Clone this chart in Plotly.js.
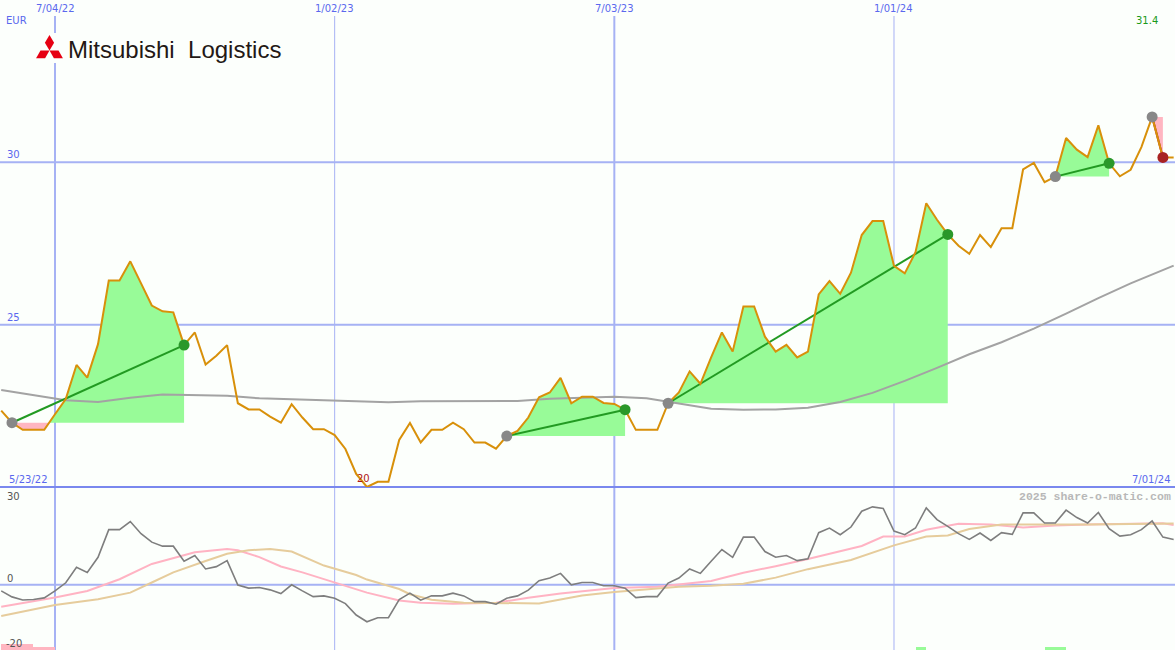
<!DOCTYPE html>
<html>
<head>
<meta charset="utf-8">
<script src="https://cdn.plot.ly/plotly-3.0.1.min.js"></script>
<style>
html,body{margin:0;padding:0;background:#fcfffc;}
#chart{width:1175px;height:650px;}
</style>
</head>
<body>
<div id="chart"></div>
<script>
// ---------- DATA ----------
const weeks = [
 '2022-05-30','2022-06-06','2022-06-13','2022-06-20','2022-06-27','2022-07-04','2022-07-11','2022-07-18','2022-07-25',
 '2022-08-01','2022-08-08','2022-08-15','2022-08-22','2022-08-29','2022-09-05','2022-09-12','2022-09-19','2022-09-26',
 '2022-10-03','2022-10-10','2022-10-17','2022-10-24','2022-10-31','2022-11-07','2022-11-14','2022-11-21','2022-11-28',
 '2022-12-05','2022-12-12','2022-12-19','2022-12-26',
 '2023-01-02','2023-01-09','2023-01-16','2023-01-23','2023-01-30','2023-02-06','2023-02-13','2023-02-20','2023-02-27',
 '2023-03-06','2023-03-13','2023-03-20','2023-03-27','2023-04-03','2023-04-10','2023-04-17','2023-04-24','2023-05-01',
 '2023-05-08','2023-05-15','2023-05-22','2023-05-29','2023-06-05','2023-06-12','2023-06-19','2023-06-26','2023-07-03',
 '2023-07-10','2023-07-17','2023-07-24','2023-07-31','2023-08-07','2023-08-14','2023-08-21','2023-08-28','2023-09-04',
 '2023-09-11','2023-09-18','2023-09-25','2023-10-02','2023-10-09','2023-10-16','2023-10-23','2023-10-30','2023-11-06',
 '2023-11-13','2023-11-20','2023-11-27','2023-12-04','2023-12-11','2023-12-18','2023-12-25',
 '2024-01-01','2024-01-08','2024-01-15','2024-01-22','2024-01-29','2024-02-05','2024-02-12','2024-02-19','2024-02-26',
 '2024-03-04','2024-03-11','2024-03-18','2024-03-25','2024-04-01','2024-04-08','2024-04-15','2024-04-22','2024-04-29',
 '2024-05-06','2024-05-13','2024-05-20','2024-05-27','2024-06-03','2024-06-10','2024-06-17','2024-06-24','2024-07-01'
];

const price = [
 22.35,21.98,21.76,21.76,21.76,22.24,22.71,23.76,23.37,24.40,26.36,26.36,26.95,26.27,25.59,25.41,25.38,24.37,
 24.76,23.77,24.04,24.37,22.58,22.39,22.39,22.17,21.98,22.55,22.14,21.78,21.78,21.60,21.17,20.40,20.00,20.16,
 20.16,21.45,21.97,21.37,21.76,21.76,21.98,21.78,21.37,21.37,21.18,21.57,21.73,22.14,22.76,22.91,23.36,22.58,
 22.78,22.78,22.59,22.56,22.38,21.76,21.76,21.76,22.58,22.91,23.56,23.18,23.99,24.76,24.17,25.56,25.56,24.63,
 24.17,24.38,23.99,24.17,25.93,26.34,25.95,26.60,27.76,28.19,28.19,26.81,26.58,27.23,28.74,28.23,27.78,27.43,
 27.18,27.76,27.39,27.97,27.97,29.78,29.98,29.39,29.56,30.75,30.39,30.16,31.14,29.97,29.57,29.77,30.47,31.40,
 30.15,30.15
];

// long moving average (top panel)
const maDates = ['2022-05-30','2022-06-20','2022-07-11','2022-08-01','2022-08-22','2022-09-12','2022-10-03','2022-10-24',
 '2022-11-14','2022-12-05','2022-12-26','2023-01-16','2023-02-06','2023-02-27','2023-03-20','2023-04-10','2023-05-01',
 '2023-05-22','2023-06-12','2023-07-03','2023-07-24','2023-08-14','2023-09-04','2023-09-25','2023-10-16','2023-11-06',
 '2023-11-27','2023-12-18','2024-01-08','2024-01-29','2024-02-19','2024-03-11','2024-04-01','2024-04-22','2024-05-13',
 '2024-06-03','2024-07-01'];
const maVals = [22.99,22.84,22.67,22.62,22.75,22.85,22.82,22.81,22.73,22.69,22.67,22.64,22.61,22.64,22.64,22.63,22.65,
 22.72,22.75,22.78,22.73,22.56,22.41,22.38,22.39,22.44,22.62,22.90,23.27,23.67,24.09,24.46,24.88,25.34,25.82,26.27,26.82];

// trades (start / end week)
const tradeStart = ['2022-06-06','2023-04-24','2023-08-07','2024-04-15','2024-06-17'];
const tradeEnd   = ['2022-09-26','2023-07-10','2024-02-05','2024-05-20','2024-06-24'];

// lower panel: momentum (weekly)
const momentum = [
 -1.86,-3.71,-4.64,-4.49,-4.02,-1.86,0.62,5.35,3.80,8.44,16.92,16.92,19.39,15.68,13.08,11.85,11.85,7.21,
 8.97,4.86,5.57,7.42,-0.09,-1.02,-0.84,-1.55,-2.69,0.00,-1.86,-3.62,-3.40,-4.11,-5.78,-9.28,-11.35,-10.11,
 -10.11,-4.52,-2.57,-4.73,-3.40,-3.40,-2.57,-3.40,-5.17,-5.17,-5.97,-4.11,-3.40,-1.64,1.24,2.07,3.50,0.00,
 0.71,0.71,-0.31,-0.31,-1.02,-3.93,-3.62,-3.62,0.53,2.07,4.86,3.50,7.21,10.83,8.44,14.63,14.63,10.21,
 8.44,8.97,7.42,7.95,15.99,17.41,15.37,17.72,22.58,23.91,23.41,16.49,15.37,17.41,23.60,20.01,17.94,15.68,
 13.92,15.87,13.61,15.99,15.47,22.05,22.05,18.96,18.96,22.89,20.63,18.96,22.18,17.23,14.94,15.37,16.92,19.58,
 14.63,13.92
];

const sigPinkDates = ['2022-05-30','2022-07-04','2022-07-25','2022-08-15','2022-09-05','2022-10-03','2022-10-24','2022-10-31',
 '2022-11-14','2022-11-28','2022-12-12','2023-01-02','2023-01-23','2023-02-13','2023-02-27','2023-03-20','2023-04-17',
 '2023-05-08','2023-05-29','2023-07-03','2023-07-31','2023-09-04','2023-09-25','2023-10-16','2023-11-06','2023-12-11',
 '2023-12-25','2024-01-08','2024-01-22','2024-02-12','2024-03-04','2024-03-25','2024-04-15','2024-05-06','2024-06-03',
 '2024-06-24','2024-07-01'];
const sigPinkVals = [-6.7,-3.9,-1.9,1.7,6.4,10.0,11.0,10.6,8.5,5.6,3.8,0.7,-2.4,-4.8,-5.5,-5.8,-5.5,-4.0,-2.7,-1.0,-0.6,
 1.2,3.7,5.7,7.9,11.9,14.8,14.8,16.9,18.7,18.5,17.6,18.2,18.5,18.8,18.9,18.3];

const sigTanDates = ['2022-05-30','2022-06-20','2022-07-04','2022-08-01','2022-08-22','2022-09-05','2022-09-19','2022-10-10',
 '2022-10-24','2022-11-07','2022-11-21','2022-12-05','2022-12-12','2022-12-26','2023-01-16','2023-01-23','2023-02-13',
 '2023-02-20','2023-03-06','2023-03-27','2023-05-15','2023-06-12','2023-07-03','2023-07-24','2023-08-14','2023-09-04',
 '2023-09-25','2023-10-16','2023-11-06','2023-12-04','2024-01-01','2024-01-22','2024-02-05','2024-02-19','2024-03-11',
 '2024-05-06','2024-07-01'];
const sigTanVals = [-9.6,-7.5,-6.2,-4.4,-2.4,0.7,3.8,7.3,9.5,10.6,11.0,10.2,8.8,5.9,3.0,1.6,-1.3,-2.9,-4.6,-5.5,-5.7,
 -3.3,-2.2,-1.3,-0.6,-0.3,0.3,2.2,4.8,7.6,12.1,14.8,15.1,17.1,18.5,18.5,18.8];

// small weekly signal bars at the bottom
const barWeeks  = ['2022-05-30','2022-06-06','2022-06-13','2022-06-20','2022-06-27','2024-01-15','2024-04-08','2024-04-15'];
const barHeight = [1.8,1.8,1.8,1.0,1.0,1.0,1.0,1.0];
const barKind   = ['sell','sell','sell','sell','sell','buy','buy','buy'];

const gridDates  = ['2022-07-04','2023-01-02','2023-07-03','2024-01-01'];
const gridLabels = ['7/04/22','1/02/23','7/03/23','1/01/24'];
const gridWidths = [2,1,2,1];
const priceTicks = [30,25];
const lowTicks = [30,0,-20];

// ---------- HELPERS ----------
const W = 1175, H = 650;
const ms = d => Date.parse(d.length === 10 ? d + 'T00:00:00Z' : d);
const toStr = t => new Date(t).toISOString().slice(0,19).replace('T',' ');
const px = x => x / W;
const py = y => 1 - y / H;

const BLUE = '#5a68ee';
const GRID = '#a6b2f4';

const traces = [];

// fills for each trade (green above start level, pink below)
tradeStart.forEach((sd, k) => {
  const i0 = weeks.indexOf(sd), i1 = weeks.indexOf(tradeEnd[k]);
  const base = price[i0];
  const pts = [];
  for (let i = i0; i <= i1; i++) {
    const t = ms(weeks[i]), p = price[i];
    if (i > i0) {
      const tp = ms(weeks[i-1]), pp = price[i-1];
      if ((pp - base) * (p - base) < 0) {
        const f = (base - pp) / (p - pp);
        pts.push([tp + f * (t - tp), base]);
      }
    }
    pts.push([t, p]);
  }
  [['#98fb98', Math.max], ['#ffb6c1', Math.min]].forEach(([col, fn]) => {
    const xs = pts.map(q => toStr(q[0]));
    const ys = pts.map(q => fn(q[1], base));
    xs.push(toStr(pts[pts.length-1][0]), toStr(pts[0][0]));
    ys.push(base, base);
    traces.push({x: xs, y: ys, mode: 'lines', fill: 'toself', fillcolor: col,
      line: {width: 0, color: col}, hoverinfo: 'skip', xaxis: 'x', yaxis: 'y'});
  });
});

// moving average
traces.push({x: maDates, y: maVals, mode: 'lines', line: {color: '#a3a3a3', width: 2},
  xaxis: 'x', yaxis: 'y', hoverinfo: 'skip'});

// trend lines start -> end
tradeStart.forEach((sd, k) => {
  const i0 = weeks.indexOf(sd), i1 = weeks.indexOf(tradeEnd[k]);
  const win = price[i1] >= price[i0];
  traces.push({x: [weeks[i0], weeks[i1]], y: [price[i0], price[i1]], mode: 'lines',
    line: {color: win ? '#229a22' : '#b02020', width: 2}, xaxis: 'x', yaxis: 'y', hoverinfo: 'skip'});
});

// price line
traces.push({x: weeks, y: price, mode: 'lines', line: {color: '#d8900a', width: 2},
  xaxis: 'x', yaxis: 'y', hoverinfo: 'skip'});

// markers
const mx = [], my = [], mc = [];
tradeStart.forEach((sd, k) => {
  const i0 = weeks.indexOf(sd), i1 = weeks.indexOf(tradeEnd[k]);
  mx.push(weeks[i0]); my.push(price[i0]); mc.push('#888888');
  mx.push(weeks[i1]); my.push(price[i1]); mc.push(price[i1] >= price[i0] ? '#2a982a' : '#a82222');
});
traces.push({x: mx, y: my, mode: 'markers', marker: {size: 11, color: mc, line: {width: 0}},
  xaxis: 'x', yaxis: 'y', hoverinfo: 'skip'});

// lower panel
traces.push({x: barWeeks, y: barHeight, base: -20, type: 'bar', offset: 0, width: 7 * 864e5,
  marker: {color: barKind.map(k => k === 'sell' ? '#ffb6c1' : '#98fb98'), line: {width: 0}},
  xaxis: 'x', yaxis: 'y2', hoverinfo: 'skip'});
traces.push({x: sigPinkDates, y: sigPinkVals, mode: 'lines', line: {color: '#ffb3c3', width: 2},
  xaxis: 'x', yaxis: 'y2', hoverinfo: 'skip'});
traces.push({x: sigTanDates, y: sigTanVals, mode: 'lines', line: {color: '#e6cc9c', width: 2},
  xaxis: 'x', yaxis: 'y2', hoverinfo: 'skip'});
traces.push({x: weeks, y: momentum, mode: 'lines', line: {color: '#7e7e7e', width: 1.6},
  xaxis: 'x', yaxis: 'y2', hoverinfo: 'skip'});

// ---------- SHAPES ----------
const shapes = [];
gridDates.forEach((d, i) => {
  shapes.push({type: 'line', xref: 'x', yref: 'paper', x0: d, x1: d, y0: 0, y1: py(16),
    line: {color: GRID, width: gridWidths[i]}, layer: 'below'});
});
priceTicks.forEach(v => {
  shapes.push({type: 'line', xref: 'paper', yref: 'y', x0: 0, x1: 1, y0: v, y1: v,
    line: {color: GRID, width: 2}, layer: 'below'});
});
shapes.push({type: 'line', xref: 'paper', yref: 'y2', x0: 0, x1: 1, y0: 0, y1: 0,
  line: {color: GRID, width: 2}, layer: 'below'});
shapes.push({type: 'line', xref: 'paper', yref: 'paper', x0: 0, x1: 1, y0: py(487), y1: py(487),
  line: {color: '#7a88ee', width: 2}, layer: 'below'});
// logo backdrop
shapes.push({type: 'rect', xref: 'paper', yref: 'paper', x0: px(33), x1: px(290), y0: py(63), y1: py(33),
  fillcolor: '#fcfffc', line: {width: 0}, layer: 'below'});
// Mitsubishi three diamonds
const dia = (pts) => 'M ' + pts.map(p => px(p[0]) + ',' + py(p[1])).join(' L ') + ' Z';
const cx = 49.5, cy = 50.5, L = 15.5, hw = 4.6;
[90, 210, 330].forEach(a => {
  const r = a * Math.PI / 180;
  const ux = Math.cos(r), uy = -Math.sin(r);
  const mxp = cx + ux * L / 2, myp = cy + uy * L / 2;
  const vx = -uy, vy = ux;
  shapes.push({type: 'path', xref: 'paper', yref: 'paper', layer: 'above',
    path: dia([[cx, cy], [mxp + vx * hw, myp + vy * hw], [cx + ux * L, cy + uy * L], [mxp - vx * hw, myp - vy * hw]]),
    fillcolor: '#e60012', line: {width: 0}});
});

// ---------- ANNOTATIONS ----------
const lab = (text, x, y, anchor, color, size, family, extra) => Object.assign({
  text, xref: 'paper', yref: 'paper', x: px(x), y: py(y), xanchor: anchor, yanchor: 'middle',
  showarrow: false, font: {color, size, family}
}, extra || {});
const F = 'DejaVu Sans, sans-serif';
const annotations = [];
gridDates.forEach((d, i) => {
  annotations.push({text: gridLabels[i], xref: 'x', yref: 'paper', x: d, y: py(8), xanchor: 'center',
    yanchor: 'middle', showarrow: false, font: {color: BLUE, size: 10, family: F}});
});
annotations.push(lab('EUR', 4, 20, 'left', BLUE, 10, F));
priceTicks.forEach(v => {
  annotations.push({text: String(v), xref: 'paper', yref: 'y', x: px(5), y: v, xanchor: 'left', yanchor: 'bottom',
    showarrow: false, font: {color: BLUE, size: 10, family: F}, yshift: 0});
});
annotations.push(lab('5/23/22', 7, 479, 'left', BLUE, 10, F));
annotations.push(lab('7/01/24', 1173, 479, 'right', BLUE, 10, F));
annotations.push(lab('31.4', 1160, 21, 'right', '#1a9a1a', 10, F));
annotations.push(lab('20', 363, 478, 'center', '#b01818', 10, F));
annotations.push(lab(String(lowTicks[0]), 5, 496, 'left', '#555555', 10, F));
annotations.push(lab(String(lowTicks[1]), 5, 578, 'left', '#555555', 10, F));
annotations.push(lab(String(lowTicks[2]), 4, 643, 'left', '#555555', 10, F));
annotations.push(lab('<b>2025 share-o-matic.com</b>', 1173, 496, 'right', '#b8b8b8', 11.5, 'Liberation Mono, monospace'));
annotations.push(lab('Mitsubishi&nbsp; Logistics', 66, 49, 'left', '#231815', 24, 'Liberation Sans, Arial, sans-serif'));

const layout = {
  width: W, height: H, margin: {l: 0, r: 0, t: 0, b: 0, pad: 0},
  paper_bgcolor: '#fcfffc', plot_bgcolor: '#fcfffc', showlegend: false, hovermode: false,
  bargap: 0,
  xaxis: {type: 'date', range: ['2022-05-29 05:00', '2024-07-01 21:00'], domain: [0, 1], showgrid: false,
    zeroline: false, showticklabels: false, ticks: '', showline: false, anchor: 'y'},
  yaxis: {range: [20, 35], domain: [163 / 650, 1], showgrid: false, zeroline: false, showticklabels: false, ticks: ''},
  yaxis2: {range: [-20, 30], domain: [0, 163 / 650], showgrid: false, zeroline: false, showticklabels: false,
    ticks: '', anchor: 'x'},
  shapes, annotations
};

Plotly.newPlot('chart', traces, layout, {staticPlot: true, displayModeBar: false});
</script>
</body>
</html>
